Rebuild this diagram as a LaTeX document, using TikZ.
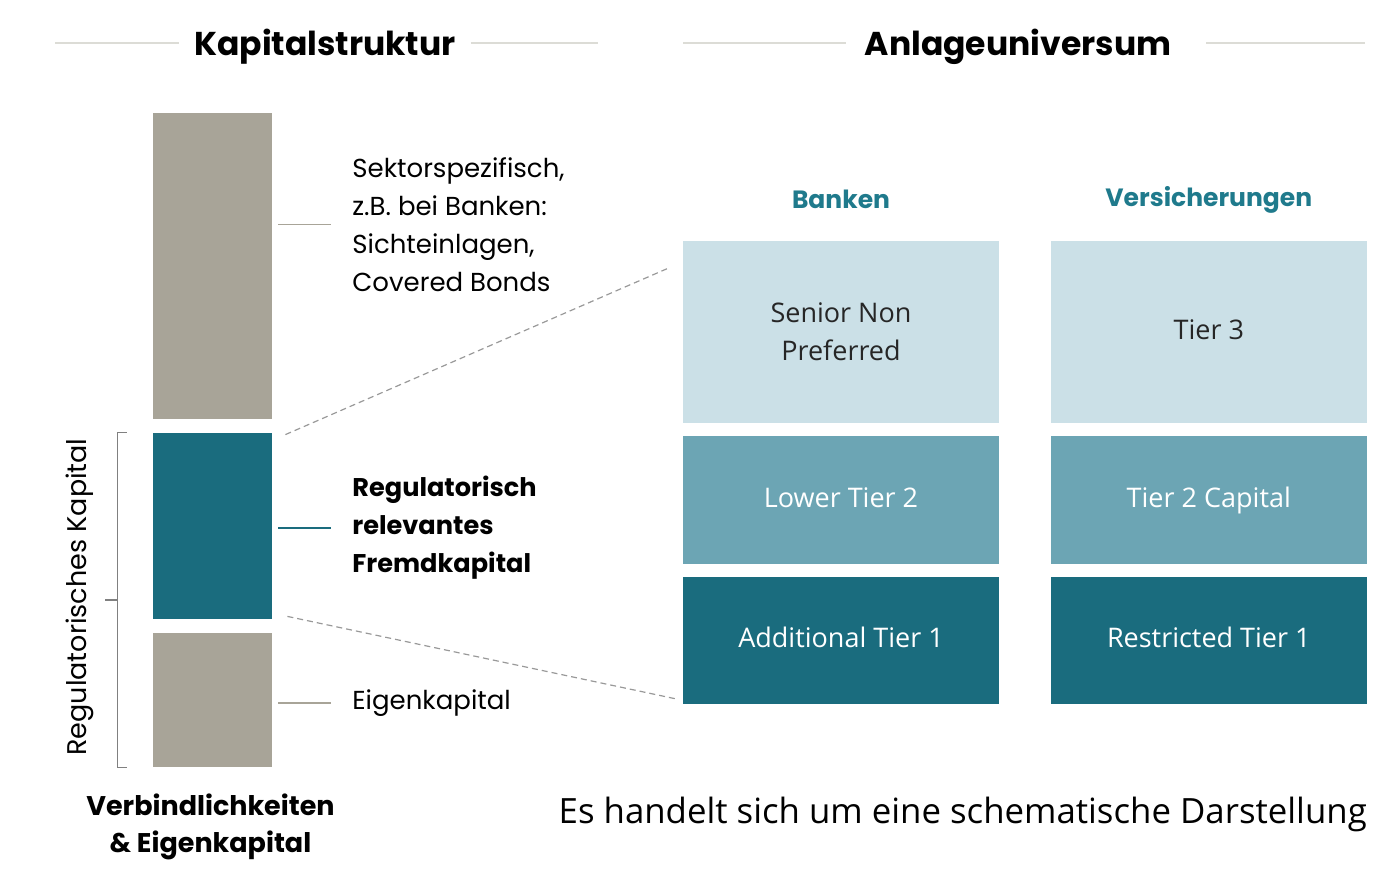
\documentclass[tikz,border=0pt]{standalone}
\usepackage{fontspec}
\setmainfont{Poppins}
\newfontfamily\boxfont{Open Sans}
\usetikzlibrary{positioning,calc}
\definecolor{grau}{HTML}{A8A498}
\definecolor{petrol}{HTML}{1A6C7E}
\definecolor{mittel}{HTML}{6CA5B4}
\definecolor{hell}{HTML}{CBE0E7}
\definecolor{kopf}{HTML}{1F7A8C}
\definecolor{linie}{HTML}{DCDCD6}

\begin{document}
\begin{tikzpicture}[x=0.5pt, y=-0.5pt,
					bar/.style = {draw=none, minimum width=59.5pt, inner sep=0pt},
					tierbox/.style = {minimum width=158pt, inner sep=0pt, align=center,
						font=\boxfont\fontsize{13.5}{19}\selectfont},
					label/.style = {anchor=west, align=left, inner sep=0pt,
						font=\fontsize{13}{19}\selectfont},
					leader/.style = {line width=0.6pt},
					header/.style = {font=\bfseries\fontsize{12.5}{15}\selectfont, text=kopf},
					title/.style = {font=\bfseries\fontsize{16.5}{20}\selectfont},
					titleline/.style = {draw=linie, line width=1.2pt},
					dashline/.style = {draw=gray!80, line width=0.6pt, dash pattern=on 3pt off 2pt},
					klammer/.style = {draw=gray, line width=0.6pt}]
	\useasboundingbox (0,0) rectangle (1400,882);
	% Kapitalstruktur
	\node[title] (kap) at (325,47) {Kapitalstruktur};
	\coordinate (kapL) at (55,43);
	\coordinate (kapR) at (598,43);
	\draw[titleline] (kapL) -- ([xshift=-4pt]kapL -| kap.west);
	\draw[titleline] ([xshift=4pt]kapR -| kap.east) -- (kapR);
	\node[bar, fill=grau, minimum height=153pt] (fk) at (212.5,266) {};
	\node[bar, fill=petrol, minimum height=93pt] (reg) at (212.5,526) {};
	\node[bar, fill=grau, minimum height=67pt] (ek) at (212.5,700) {};
	\node[label] (fktext) at (352,224.5) {Sektorspezifisch,\\z.B. bei Banken:\\Sichteinlagen,\\Covered Bonds};
	\node[label, font=\bfseries\fontsize{12.8}{19}\selectfont] (regtext) at (352,528) {Regulatorisch\\relevantes\\Fremdkapital};
	\node[label] (ektext) at (352,703) {Eigenkapital};
	\draw[leader, draw=grau] ([xshift=3pt]fk.east |- fktext.west) -- ([xshift=-10.5pt]fktext.west);
	\draw[leader, draw=petrol] ([xshift=3pt]reg.east |- regtext.west) -- ([xshift=-10.5pt]regtext.west);
	\draw[leader, draw=grau] ([xshift=3pt]ek.east |- ektext.west) -- ([xshift=-10.5pt]ektext.west);
	% Klammer
	\draw[klammer] ([xshift=-13pt]reg.north west) -- ++(-9,0) coordinate (kt) |- ([xshift=-13pt]ek.south west);
	\draw[klammer] ($(kt)!0.5!(kt |- ek.south)$) -- ++(-13,0) coordinate (kmid);
	\node[rotate=90, font=\fontsize{13.5}{15}\selectfont] (regkap) at ($(kmid)+(-25,-3)$) {Regulatorisches Kapital};
	\node[align=center, font=\bfseries\fontsize{13.5}{18.5}\selectfont] (verb) at ($(ek.south)+(-2,59)$) {Verbindlichkeiten\\\& Eigenkapital};
	% Anlageuniversum
	\node[title] (anl) at (1018,47) {Anlageuniversum};
	\coordinate (anlL) at (683,43);
	\coordinate (anlR) at (1365,43);
	\draw[titleline] (anlL) -- ([xshift=-6pt]anlL -| anl.west);
	\draw[titleline] ([xshift=14pt]anlR -| anl.east) -- (anlR);
	\node[tierbox, fill=hell, text=black!85, minimum height=91pt] (snp) at (841,332) {Senior Non\\Preferred};
	\node[tierbox, fill=mittel, text=white, minimum height=64pt, below=6pt of snp] (lt2) {\strut Lower Tier 2};
	\node[tierbox, fill=petrol, text=white, minimum height=63.5pt, below=6pt of lt2] (at1) {\strut Additional Tier 1};
	\node[tierbox, fill=hell, text=black!85, minimum height=91pt, right=25.5pt of snp] (t3) {\strut Tier 3};
	\node[tierbox, fill=mittel, text=white, minimum height=64pt, below=6pt of t3] (t2) {\strut Tier 2 Capital};
	\node[tierbox, fill=petrol, text=white, minimum height=63.5pt, below=6pt of t2] (rt1) {\strut Restricted Tier 1};
	\node[header] (banken) at ($(snp.north)+(0,-41)$) {Banken};
	\node[header] (vers) at ($(t3.north)+(0,-41)$) {Versicherungen};
	% Verbindungen
	\coordinate (d1s) at ($(reg.north east)+(13,2)$);
	\coordinate (d1e) at ($(snp.north west)+(-13,27)$);
	\coordinate (d2s) at ($(reg.south east)+(15,-3)$);
	\coordinate (d2e) at ($(at1.south west)+(-6,-5)$);
	\draw[dashline] (d1s) -- (d1e);
	\draw[dashline] (d2s) -- (d2e);
	\node[anchor=east, inner sep=0pt, font=\boxfont\fontsize{17.4}{20}\selectfont] (hinweis) at ($(rt1.south east)+(0,110)$) {Es handelt sich um eine schematische Darstellung};
\end{tikzpicture}
\end{document}
